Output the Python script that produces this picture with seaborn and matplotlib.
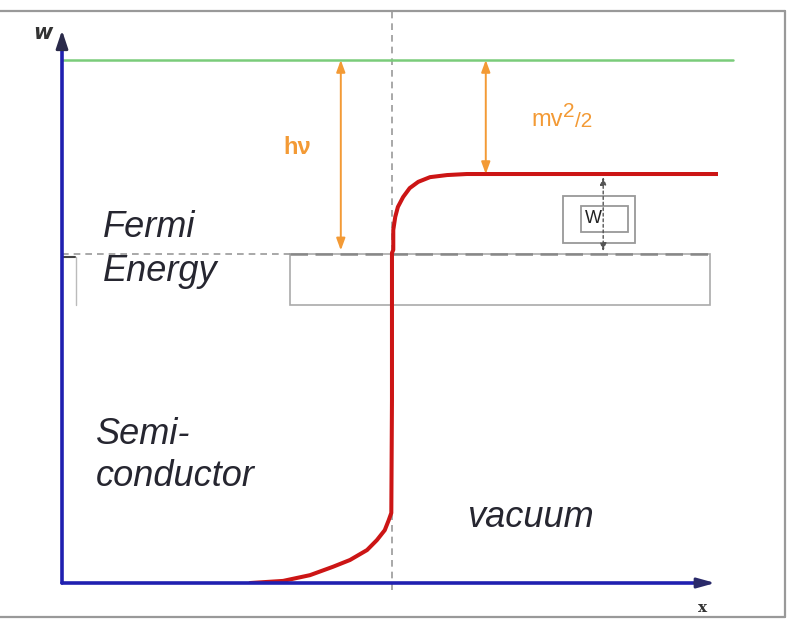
import matplotlib
matplotlib.use("Agg")
import matplotlib.pyplot as plt
from matplotlib.patches import Rectangle
from matplotlib.lines import Line2D
import seaborn as sns

# energy levels (arbitrary units, x-axis at w=0)
vacuum_w = 10.0
surface_w = 7.82
fermi_w = 6.29
interface_x = 5.03

# band edge (red curve)
curve_x = [2.87, 3.37, 3.78, 4.13, 4.39, 4.65, 4.80, 4.92, 4.98, 5.02, 5.03, 5.03,
           5.05, 5.05, 5.08, 5.12, 5.20, 5.30, 5.43, 5.61, 5.87, 6.17, 10.0]
curve_w = [0.0, 0.04, 0.15, 0.31, 0.44, 0.63, 0.82, 1.01, 1.20, 1.34, 3.50, 6.31,
           6.37, 6.75, 7.00, 7.19, 7.38, 7.55, 7.67, 7.76, 7.80, 7.82, 7.82]

# labels
hv_label = "hν"
kin_parts = ["mv", "2", "/2"]
w_label = "W"
side_labels = ["Fermi", "Energy", "Semi-", "conductor", "vacuum"]

sns.set_theme(style="white")
plt.rcParams["font.family"] = ["Liberation Sans", "DejaVu Sans"]

blue = "#2020b0"
orange = "#f39a35"
red = "#cc1515"
green = "#7acc7a"
txt = "#262630"

fig = plt.figure(figsize=(7.92, 6.2), dpi=100)
ax = fig.add_axes([62 / 792, 37 / 620, 656 / 792, 523 / 620])
ax.set_xlim(0, 10)
ax.set_ylim(0, 10)
ax.axis("off")

# outer frame
for xs, ys in [([0, 785 / 792], [609 / 620] * 2), ([785 / 792] * 2, [3 / 620, 609 / 620]), ([0, 785 / 792], [3 / 620] * 2)]:
    fig.add_artist(Line2D(xs, ys, color="#999999", lw=1.6, transform=fig.transFigure))

# interface dashed vertical
ax.plot([interface_x, interface_x], [-0.13, 10.94], color="#999999", lw=1.2, ls=(0, (4, 3)), clip_on=False)

# vacuum level
ax.plot([0, 10.23], [vacuum_w, vacuum_w], color=green, lw=1.8, clip_on=False)

# fermi level box and dashed line
ax.add_patch(Rectangle((3.48, 5.32), 9.88 - 3.48, fermi_w - 5.32, fill=False, ec="#aaaaaa", lw=1.2))
ax.plot([0.21, 0.21], [5.32, 6.23], color="#bbbbbb", lw=1.0)
ax.plot([0, 3.48], [fermi_w, fermi_w], color="#999999", lw=1.2, ls=(0, (4, 3)))
ax.plot([3.48, 9.88], [fermi_w, fermi_w], color="#888888", lw=1.8, ls=(0, (7, 3)))
ax.plot([0, 0.2], [fermi_w - 0.05] * 2, color="#444444", lw=1.5)

# band edge
sns.lineplot(x=curve_x, y=curve_w, sort=False, estimator=None, color=red, lw=2.9, ax=ax)

# axes
ax.plot([0, 0], [0, 10.4], color=blue, lw=2.6, clip_on=False)
ax.plot([0, 9.8], [0, 0], color=blue, lw=2.6, clip_on=False)
ax.annotate("", xy=(0, 10.62), xytext=(0, 10.2), annotation_clip=False,
            arrowprops=dict(arrowstyle="-|>,head_length=0.9,head_width=0.3", color="#2a2a4a", lw=2))
ax.annotate("", xy=(10.0, 0), xytext=(9.6, 0), annotation_clip=False,
            arrowprops=dict(arrowstyle="-|>,head_length=0.9,head_width=0.25", color="#2a2a6a", lw=2))
ax.text(-0.3, 10.52, "w", fontsize=15, fontweight="bold", style="italic", color="#333333",
        ha="center", va="center", family="DejaVu Sans")
ax.text(9.76, -0.48, "x", fontsize=11, fontweight="bold", color="#333333",
        ha="center", va="center", family="DejaVu Serif")

# photon and kinetic energy arrows
ax.annotate("", xy=(4.25, fermi_w + 0.07), xytext=(4.25, vacuum_w),
            arrowprops=dict(arrowstyle="<|-|>,head_length=0.6,head_width=0.22", color=orange, lw=1.4,
                            shrinkA=0, shrinkB=0))
ax.annotate("", xy=(6.46, surface_w), xytext=(6.46, vacuum_w),
            arrowprops=dict(arrowstyle="<|-|>,head_length=0.6,head_width=0.22", color=orange, lw=1.4,
                            shrinkA=0, shrinkB=0))
ax.text(3.37, 8.32, hv_label, fontsize=17, color=orange, ha="left", va="center", fontweight="bold")
t1 = ax.text(7.16, 8.85, kin_parts[0], fontsize=17, color=orange, ha="left", va="center")
t2 = ax.annotate(kin_parts[1], xy=(1.0, 0.45), xycoords=t1, fontsize=15, color=orange,
                 ha="left", va="bottom")
ax.annotate(kin_parts[2], xy=(1.0, 0.0), xycoords=(t2, t1), fontsize=15, color=orange,
            ha="left", va="bottom")

# work function
ax.annotate("", xy=(8.25, surface_w - 0.05), xytext=(8.25, fermi_w + 0.05),
            arrowprops=dict(arrowstyle="<|-|>,head_length=0.4,head_width=0.15", color="#555555", lw=1.0,
                            ls=(0, (2, 2)), shrinkA=0, shrinkB=0))
ax.add_patch(Rectangle((7.64, 6.50), 1.10, 0.90, fc="white", ec="#999999", lw=1.3))
ax.add_patch(Rectangle((7.91, 6.71), 0.72, 0.50, fc="white", ec="#999999", lw=1.3))
ax.text(7.97, 6.96, w_label, fontsize=13, color="#222222", ha="left", va="center")

# region labels
style = dict(fontsize=26, style="italic", color=txt, ha="left", va="center")
ax.text(0.625, 6.79, side_labels[0], **style)
ax.text(0.625, 5.95, side_labels[1], **style)
ax.text(0.52, 2.83, side_labels[2], **style)
ax.text(0.52, 2.03, side_labels[3], **style)
ax.text(6.17, 1.26, side_labels[4], **style)

fig.savefig("out.png", dpi=100)
